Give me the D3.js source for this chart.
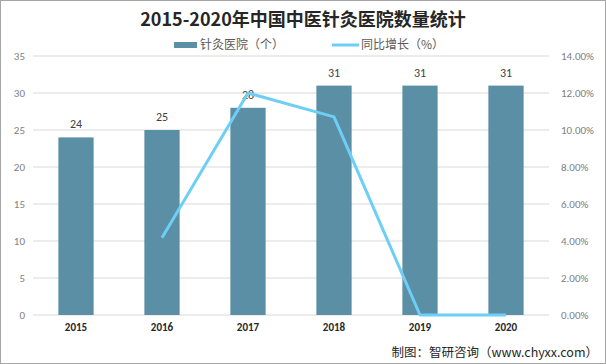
<!DOCTYPE html>
<html><head><meta charset="utf-8">
<script src="https://cdn.jsdelivr.net/npm/d3@7"></script>
<style>body{margin:0;background:#fff}svg{display:block;font-family:"Noto Sans CJK SC","Noto Sans",sans-serif}</style>
</head><body><svg id="c" width="606" height="364"></svg>
<script>
const years = ["2015","2016","2017","2018","2019","2020"];
const hospitals = [24,25,28,31,31,31];
const growth = [null,4.17,12.0,10.71,0,0];
const leftTicks = [0,5,10,15,20,25,30,35];
const rightTicks = [0,2,4,6,8,10,12,14];

const svg = d3.select("#c");
svg.append("rect").attr("x",0.5).attr("y",0.5).attr("width",605).attr("height",363).attr("fill","#fff").attr("stroke","#a6a6a6");

const L=33,R=549,T=56,B=315;
const x = d3.scaleBand().domain(years).range([L,R]).paddingInner(0.59).paddingOuter(0.295);
const y = d3.scaleLinear().domain([0,35]).range([B,T]);
const y2 = d3.scaleLinear().domain([0,14]).range([B,T]);

svg.append("g").selectAll("line").data(leftTicks).join("line")
  .attr("x1",L).attr("x2",R).attr("y1",d=>y(d)).attr("y2",d=>y(d))
  .attr("stroke","#d9d9d9").attr("stroke-width",1);

const gl = svg.append("g").attr("transform",`translate(${L-8},0)`)
  .call(d3.axisLeft(y).tickValues(leftTicks).tickSize(0).tickPadding(0));
gl.select(".domain").remove();
gl.selectAll("text").attr("fill","#808080").style("font-size","11px").style("font-family","Calibri,'Liberation Sans',sans-serif");
gl.attr("text-anchor","end");

const gr = svg.append("g").attr("transform",`translate(${R+12},0)`)
  .call(d3.axisRight(y2).tickValues(rightTicks).tickSize(0).tickPadding(0).tickFormat(d=>d.toFixed(2)+"%"));
gr.select(".domain").remove();
gr.selectAll("text").attr("fill","#808080").style("font-size","11px").style("font-family","Calibri,'Liberation Sans',sans-serif");

const gx = svg.append("g").attr("transform",`translate(0,${B+8})`)
  .call(d3.axisBottom(x).tickSize(0).tickPadding(0));
gx.select(".domain").remove();
gx.selectAll("text").attr("fill","#262626").attr("dy","0.71em").style("font-size","11px").style("font-weight","bold").style("font-family","Calibri,'Liberation Sans',sans-serif");

svg.append("g").selectAll("rect").data(years).join("rect")
  .attr("x",d=>x(d)).attr("width",x.bandwidth())
  .attr("y",(d,i)=>y(hospitals[i])).attr("height",(d,i)=>B-y(hospitals[i]))
  .attr("fill","#5b8fa6");

svg.append("g").selectAll("text").data(years).join("text")
  .attr("x",d=>x(d)+x.bandwidth()/2).attr("y",(d,i)=>y(hospitals[i])-9)
  .attr("text-anchor","middle").attr("fill","#404040")
  .style("font-size","12px").style("font-family","Calibri,'Liberation Sans',sans-serif")
  .text((d,i)=>hospitals[i]);

const line = d3.line().defined(d=>d[1]!=null)
  .x(d=>x(d[0])+x.bandwidth()/2).y(d=>y2(d[1]));
svg.append("path").datum(years.map((d,i)=>[d,growth[i]]))
  .attr("d",line).attr("fill","none").attr("stroke","#6dcff6").attr("stroke-width",3).attr("stroke-linejoin","round");

svg.append("text").attr("x",303).attr("y",26).attr("text-anchor","middle")
  .attr("fill","#262626").style("font-size","18px").style("font-weight","bold")
  .text("2015-2020年中国中医针灸医院数量统计");

const lg = svg.append("g");
lg.append("rect").attr("x",174).attr("y",42).attr("width",23).attr("height",6).attr("fill","#5b8fa6");
lg.append("text").attr("x",200).attr("y",49).attr("fill","#595959").style("font-size","12px").text("针灸医院（个）");
lg.append("line").attr("x1",332).attr("x2",359).attr("y1",45).attr("y2",45).attr("stroke","#6dcff6").attr("stroke-width",3);
lg.append("text").attr("x",361).attr("y",49).attr("fill","#595959").style("font-size","12px").text("同比增长（%）");

svg.append("text").attr("x",598).attr("y",357).attr("text-anchor","end")
  .attr("fill","#262626").style("font-size","12.5px").text("制图：智研咨询（www.chyxx.com）");
</script></body></html>
